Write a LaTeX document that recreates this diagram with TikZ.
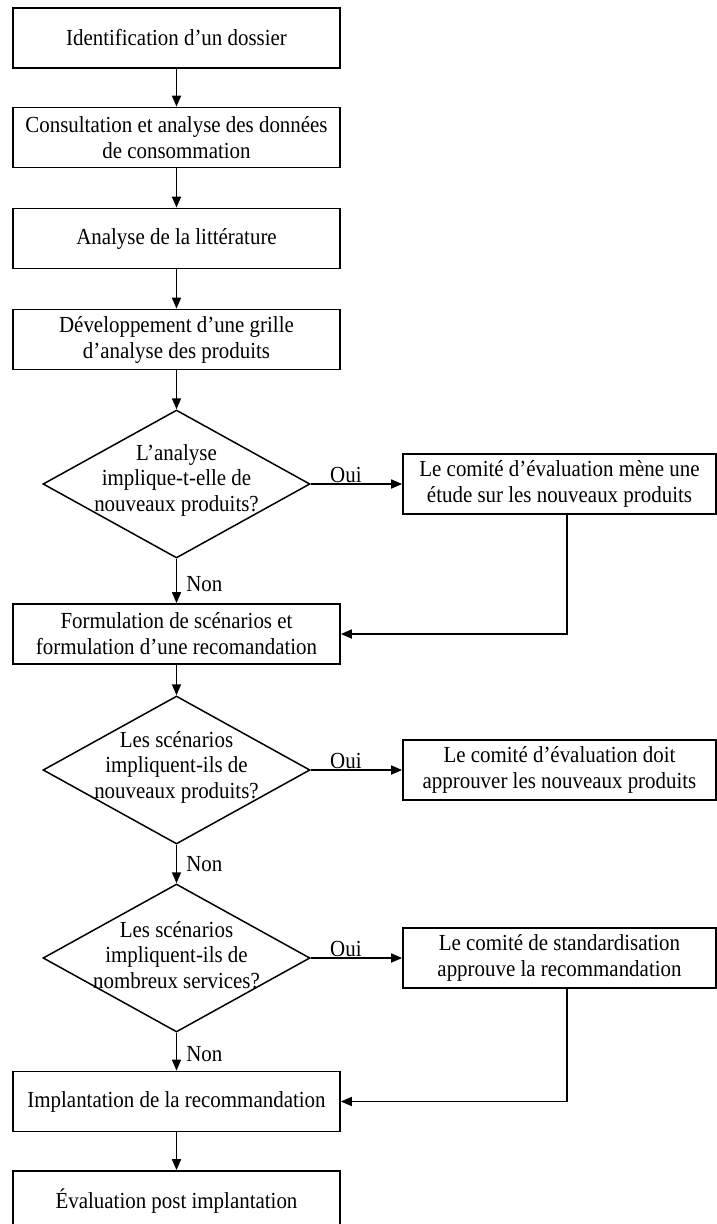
\documentclass[tikz,border=0pt]{standalone}
\usepackage{fontspec}
\setmainfont[FakeStretch=0.91]{Liberation Serif}
\usetikzlibrary{shapes.geometric,arrows.meta}
\begin{document}
\begin{tikzpicture}[x=1pt,y=-1pt,
  box/.style={draw, line width=1.7pt, minimum width=327pt, minimum height=60pt, inner sep=0pt, align=center, font=\fontsize{23}{26}\selectfont},
  rbox/.style={box, minimum width=313pt},
  dia/.style={draw, diamond, line width=1.5pt, minimum width=267pt, minimum height=148pt, inner sep=0pt},
  txt/.style={align=center, inner sep=0pt, font=\fontsize{23}{25.5}\selectfont},
  arr/.style={line width=1.7pt, -{Triangle[length=11pt,width=9pt]}},
  lbl/.style={inner sep=0pt, font=\fontsize{23}{25}\selectfont}
]
\useasboundingbox (0,0) rectangle (717,1224);
\clip (0,0) rectangle (717,1224);

% main column
\node[box] (b1) at (176.5,38) {Identification d’un dossier};
\node[box] (b2) at (176.5,137.5) {Consultation et analyse des données\\de consommation};
\node[box] (b3) at (176.5,238.5) {Analyse de la littérature};
\node[box] (b4) at (176.5,339.5) {Développement d’une grille\\d’analyse des produits};
\node[dia] (d1) at (176.5,484) {};
\node[txt] (d1t) at (176.5,480) {L’analyse\\implique-t-elle de\\nouveaux produits?};
\node[box] (b5) at (176.5,634) {Formulation de scénarios et\\formulation d’une recomandation};
\node[dia] (d2) at (176.5,770) {};
\node[txt] (d2t) at (176.5,767) {Les scénarios\\impliquent-ils de\\nouveaux produits?};
\node[dia] (d3) at (176.5,958) {};
\node[txt] (d3t) at (176.5,955) {Les scénarios\\impliquent-ils de\\nombreux services?};
\node[box] (b6) at (176.5,1101.5) {Implantation de la recommandation};
\node[box] (b7) at (176.5,1201) {Évaluation post implantation};

% right column
\node[rbox] (r1) at (559.5,484) {Le comité d’évaluation mène une\\étude sur les nouveaux produits};
\node[rbox] (r2) at (559.5,770) {Le comité d’évaluation doit\\approuver les nouveaux produits};
\node[rbox] (r3) at (559.5,958) {Le comité de standardisation\\approuve la recommandation};

% vertical flow
\draw[arr] (b1) -- (b2);
\draw[arr] (b2) -- (b3);
\draw[arr] (b3) -- (b4);
\draw[arr] (b4) -- (d1.north);
\draw[arr] (d1.south) -- node[lbl, anchor=west, xshift=9pt, yshift=-3pt] (n1) {Non} (b5.north);
\draw[arr] (b5) -- (d2.north);
\draw[arr] (d2.south) -- node[lbl, anchor=west, xshift=9pt] (n2) {Non} (d3.north);
\draw[arr] (d3.south) -- node[lbl, anchor=west, xshift=9pt, yshift=-2pt] (n3) {Non} (b6.north);
\draw[arr] (b6) -- (b7);

% Oui branches
\draw[arr] (d1.east) -- (r1.west);
\node[lbl, anchor=base west] (o1) at (330,482) {Oui};
\draw[arr] (d2.east) -- (r2.west);
\node[lbl, anchor=base west] (o2) at (330,768) {Oui};
\draw[arr] (d3.east) -- (r3.west);
\node[lbl, anchor=base west] (o3) at (330,956) {Oui};

% feedback lines
\coordinate (c1) at (567,634);
\draw[arr] (r1.south -| c1) -- (c1) -- (b5.east);
\coordinate (c2) at (567,1101.5);
\draw[arr] (r3.south -| c2) -- (c2) -- (b6.east);
\end{tikzpicture}
\end{document}
